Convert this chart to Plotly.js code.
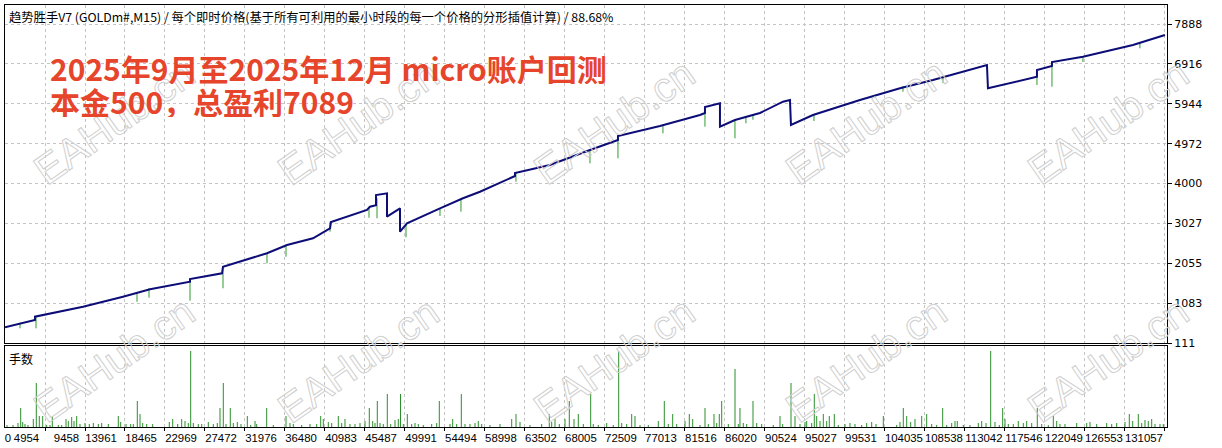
<!DOCTYPE html>
<html>
<head>
<meta charset="utf-8">
<script src="https://cdn.plot.ly/plotly-3.0.1.min.js"></script>
<style>
html,body{margin:0;padding:0;background:#fff;}
#chart{width:1222px;height:448px;}
</style>
</head>
<body>
<div id="chart"></div>
<script>
// ---- Data ----
// Balance curve (x = tick number, y = balance)
const balanceX = [450, 2139, 3828, 3828, 9233, 13737, 16777, 21281, 21281, 24884, 24997, 29950, 32203, 35130, 37045, 37158, 37833, 41211, 41549, 42225, 42225, 43464, 43464, 44927, 44927, 45714, 49430, 52019, 53932, 57310, 57873, 57873, 61814, 66317, 69470, 69470, 74199, 78703, 79266, 79266, 80955, 80955, 82644, 85459, 88049, 88837, 88950, 91427, 96719, 101223, 104938, 111018, 111131, 116649, 116649, 118338, 118338, 121827, 127456, 131059];
const balanceY = [500, 598, 678, 759, 1002, 1246, 1426, 1611, 1677, 1816, 1977, 2303, 2505, 2668, 2912, 3065, 3114, 3358, 3438, 3473, 3723, 3764, 3194, 3399, 2829, 3034, 3399, 3643, 3803, 4137, 4186, 4259, 4454, 4819, 5063, 5160, 5404, 5672, 5720, 5866, 5956, 5387, 5550, 5720, 5995, 6037, 5428, 5672, 6037, 6322, 6524, 6889, 6322, 6604, 6768, 6865, 6963, 7091, 7376, 7620];

// Equity dips (green spikes): x, equity before dip, equity low
const spikeX   = [2139, 3941, 15313, 16664, 21281, 24997, 29950, 32091, 37045, 41436, 42338, 45602, 49430, 51794, 57985, 66317, 69470, 74536, 79266, 82644, 83882, 84670, 91539, 101561, 106065, 116649, 118338, 121827, 128244];
const spikeTop = [613, 759, 1329, 1451, 1665, 1969, 2303, 2505, 3073, 3438, 3643, 2992, 3399, 3643, 4283, 4819, 5160, 5421, 5793, 5550, 5623, 5684, 5696, 6378, 6573, 6719, 6962, 7084, 7418];
const spikeLow = [476, 476, 1124, 1222, 1149, 1451, 2059, 2220, 2829, 3170, 3156, 2693, 3212, 3316, 4047, 4495, 4617, 5226, 5387, 5104, 5469, 5557, 5525, 6239, 6451, 6402, 6361, 6962, 7296];

// Lots (手数) per trade
const lotX = [676, 1351, 1914, 2218, 2443, 2702, 3040, 3637, 3975, 4313, 4695, 5146, 5517, 5776, 6452, 6835, 7319, 7578, 7961, 8220, 8524, 8895, 9458, 9943, 10393, 10956, 11339, 12082, 13208, 13478, 14075, 14604, 14897, 15347, 15651, 15955, 16406, 17081, 18951, 19334, 19896, 20347, 20718, 21090, 21360, 21653, 22216, 22599, 23342, 23905, 24355, 24659, 25031, 25335, 25819, 26157, 26607, 27024, 27733, 28116, 28600, 28792, 29918, 30661, 32091, 32541, 32913, 33859, 34793, 35548, 35998, 36291, 36854, 37237, 37980, 38363, 38734, 39297, 39860, 40423, 40986, 41472, 41854, 42112, 42371, 42675, 43047, 43497, 43880, 44364, 44736, 44984, 45299, 45749, 46245, 46616, 46988, 47551, 48497, 49060, 49353, 50557, 50861, 51312, 51830, 52246, 52809, 53372, 53744, 54127, 55061, 56187, 57505, 57989, 58439, 59565, 60883, 61739, 62009, 62380, 62864, 63506, 63991, 64520, 65004, 65567, 66399, 66692, 67255, 68201, 68944, 69552, 69890, 70453, 71016, 71388, 71951, 72886, 74012, 74688, 75138, 75634, 76084, 77018, 77503, 77886, 78707, 79270, 79642, 80284, 80588, 80881, 81151, 81894, 82648, 83020, 83207, 83583, 83966, 84675, 85091, 85653, 86960, 87714, 88018, 88954, 89404, 89967, 90530, 90722, 91285, 91578, 91848, 92219, 92591, 92974, 93267, 93830, 94280, 95034, 95597, 96160, 96915, 97478, 98041, 98525, 99347, 100856, 101227, 101599, 101982, 102432, 102916, 103671, 104234, 104797, 105360, 106035, 106486, 107049, 107420, 107679, 108355, 109109, 110044, 110427, 110911, 111440, 111924, 112409, 112791, 113050, 113422, 113985, 114548, 115111, 115494, 116057, 116687, 117183, 117926, 118489, 118871, 119243, 119806, 121124, 122250, 122621, 123376, 124502, 125065, 125628, 126562, 127047, 127430, 128060, 128443, 128814, 129186, 129569, 129940, 130503, 130875];
const lotSize = [0.02, 0.02, 0.04, 0.19, 0.05, 0.03, 0.02, 0.08, 0.44, 0.11, 0.11, 0.02, 0.02, 0.11, 0.02, 0.02, 0.08, 0.06, 0.10, 0.06, 0.11, 0.03, 0.04, 0.03, 0.04, 0.03, 0.04, 0.03, 0.11, 0.05, 0.03, 0.03, 0.03, 0.26, 0.13, 0.04, 0.03, 0.03, 0.05, 0.08, 0.03, 0.08, 0.06, 0.04, 0.76, 0.04, 0.03, 0.03, 0.05, 0.03, 0.04, 0.19, 0.44, 0.03, 0.19, 0.04, 0.05, 0.03, 0.11, 0.02, 0.06, 0.03, 0.19, 0.02, 0.11, 0.04, 0.03, 0.02, 0.03, 0.03, 0.11, 0.08, 0.05, 0.04, 0.11, 0.04, 0.08, 0.03, 0.03, 0.04, 0.06, 0.19, 0.06, 0.04, 0.26, 0.04, 0.03, 0.33, 0.03, 0.07, 0.08, 0.33, 0.03, 0.13, 0.03, 0.04, 0.03, 0.02, 0.03, 0.04, 0.26, 0.03, 0.08, 0.03, 0.33, 0.03, 0.03, 0.04, 0.06, 0.03, 0.02, 0.03, 0.08, 0.13, 0.05, 0.02, 0.03, 0.13, 0.05, 0.08, 0.03, 0.08, 0.26, 0.08, 0.13, 0.03, 0.33, 0.03, 0.02, 0.04, 0.02, 0.76, 0.04, 0.03, 0.13, 0.11, 0.02, 0.02, 0.06, 0.26, 0.03, 0.13, 0.03, 0.06, 0.13, 0.08, 0.02, 0.19, 0.03, 0.13, 0.04, 0.13, 0.26, 0.03, 0.58, 0.03, 0.19, 0.04, 0.03, 0.26, 0.04, 0.03, 0.02, 0.11, 0.03, 0.44, 0.11, 0.03, 0.05, 0.06, 0.04, 0.33, 0.11, 0.06, 0.13, 0.06, 0.11, 0.13, 0.02, 0.03, 0.04, 0.03, 0.02, 0.04, 0.05, 0.03, 0.11, 0.02, 0.05, 0.19, 0.11, 0.05, 0.08, 0.11, 0.13, 0.03, 0.02, 0.19, 0.02, 0.04, 0.06, 0.06, 0.02, 0.02, 0.04, 0.06, 0.04, 0.76, 0.05, 0.02, 0.19, 0.08, 0.03, 0.03, 0.06, 0.04, 0.06, 0.04, 0.19, 0.03, 0.02, 0.11, 0.06, 0.03, 0.03, 0.04, 0.04, 0.05, 0.03, 0.04, 0.03, 0.04, 0.05, 0.13, 0.06, 0.13, 0.04, 0.07, 0.06, 0.08, 0.03, 0.03, 0.03];

// Axis ticks
const yTickVals = [111, 1083, 2055, 3027, 4000, 4972, 5944, 6916, 7888];
const yTickText = ['111', '1083', '2055', '3027', '4000', '4972', '5944', '6916', '7888'];
const xGridVals = [4954, 9458, 13961, 18465, 22969, 27472, 31976, 36480, 40983, 45487, 49991, 54494, 58998, 63502, 68005, 72509, 77013, 81516, 86020, 90524, 95027, 99531, 104035, 108538, 113042, 117546, 122049, 126553, 131057];
const xTickText = ['0', '4954', '9458', '13961', '18465', '22969', '27472', '31976', '36480', '40983', '45487', '49991', '54494', '58998', '63502', '68005', '72509', '77013', '81516', '86020', '90524', '95027', '99531', '104035', '108538', '113042', '117546', '122049', '126553', '131057'];

const titleText = '趋势胜手V7 (GOLDm#,M15) / 每个即时价格(基于所有可利用的最小时段的每一个价格的分形插值计算) / 88.68%';
const noteLine1 = '2025年9月至2025年12月 micro账户回测';
const noteLine2 = '本金500，总盈利7089';
const lotsLabel = '手数';
const watermarkText = 'EAHub.cn';

// ---- Build ----
const xMin = 450, xMax = 131292;
const pxUnit = (xMax - xMin) / 1162;
// label placement like the terminal: labels sit left of their grid line
const labelOffsetPx = {4: 18.5, 5: 24, 6: 21};
const xTickPos = xTickText.map((t, i) => i === 0 ? xMin + 3 * pxUnit : Number(t) - labelOffsetPx[t.length] * pxUnit);

function segments(xs, y0s, y1s) {
  const X = [], Y = [];
  xs.forEach((x, i) => { X.push(x, x, null); Y.push(y0s[i], y1s[i], null); });
  return {X, Y};
}
const sp = segments(spikeX, spikeTop, spikeLow);
const lt = segments(lotX, lotX.map(() => 0), lotSize);

const traces = [
  {x: sp.X, y: sp.Y, xaxis: 'x2', yaxis: 'y', type: 'scatter', mode: 'lines',
   line: {color: '#2f9a2f', width: 1}, hoverinfo: 'skip', connectgaps: false},
  {x: balanceX, y: balanceY, xaxis: 'x2', yaxis: 'y', type: 'scatter', mode: 'lines',
   line: {color: '#0d0d78', width: 2}},
  {x: lt.X, y: lt.Y, xaxis: 'x', yaxis: 'y2', type: 'scatter', mode: 'lines',
   line: {color: '#2a8f2a', width: 1}, connectgaps: false}
];

// faint diagonal watermark, 5 columns x 2 rows (page pixels -> paper coords)
const wmCols = [114, 359, 614, 866, 1108], wmRows = [122, 360];
const watermarks = [];
wmRows.forEach(py => wmCols.forEach(px => watermarks.push({
  text: '<span style="fill:none;stroke:#cfcfcf;stroke-width:1px">' + watermarkText + '</span>',
  xref: 'paper', yref: 'paper', x: (px - 5) / 1162, y: (427 - py) / 422,
  xanchor: 'center', yanchor: 'middle', textangle: -35, showarrow: false,
  font: {family: 'Liberation Sans, Arial, sans-serif', size: 41, color: '#ececec'}
})));

const grid = '#c4c4c4';
const layout = {
  width: 1222, height: 448,
  margin: {l: 5, r: 55, t: 5, b: 21},
  paper_bgcolor: '#ffffff', plot_bgcolor: '#ffffff',
  showlegend: false,
  xaxis: {
    domain: [0, 1], anchor: 'y2', range: [xMin, xMax],
    tickmode: 'array', tickvals: xTickPos, ticktext: xTickText, tickangle: 0,
    showgrid: false, ticks: '', zeroline: false,
    tickfont: {family: 'Liberation Sans, DejaVu Sans, sans-serif', size: 11.4, color: '#000'},
    showline: true, mirror: true, linecolor: '#000', linewidth: 1,
    minor: {tickmode: 'array', tickvals: xGridVals, showgrid: true, gridcolor: grid,
            griddash: '3px,3px', gridwidth: 1, ticks: 'outside', ticklen: 3, tickcolor: '#000'}
  },
  xaxis2: {
    domain: [0, 1], anchor: 'y', range: [xMin, xMax],
    tickmode: 'array', tickvals: xGridVals, showticklabels: false, ticks: '',
    showgrid: true, gridcolor: grid, griddash: '3px,3px', gridwidth: 1, zeroline: false,
    showline: true, mirror: true, linecolor: '#000', linewidth: 1
  },
  yaxis: {
    domain: [0.1983, 1], anchor: 'x2', side: 'right', range: [110, 8351],
    tickmode: 'array', tickvals: yTickVals, ticktext: yTickText,
    ticks: 'outside', ticklen: 4, tickcolor: '#000',
    showgrid: true, gridcolor: grid, griddash: '3px,3px', gridwidth: 1, zeroline: false,
    tickfont: {family: 'DejaVu Sans, sans-serif', size: 11, color: '#000'},
    showline: true, mirror: true, linecolor: '#000', linewidth: 1
  },
  yaxis2: {
    domain: [0, 0.1931], anchor: 'x', range: [0, 0.815],
    showticklabels: false, ticks: '', showgrid: false, zeroline: false,
    showline: true, mirror: true, linecolor: '#000', linewidth: 1
  },
  annotations: watermarks.concat([
    {text: titleText, xref: 'paper', yref: 'paper', x: 0, y: 1, xanchor: 'left', yanchor: 'top',
     xshift: 2, yshift: -1, showarrow: false,
     font: {family: 'Noto Sans CJK SC, sans-serif', size: 12.3, color: '#000'}},
    {text: noteLine1, xref: 'paper', yref: 'paper', x: (48 - 5) / 1162, y: (427 - 68) / 422,
     xanchor: 'left', yanchor: 'middle', showarrow: false, height: 32, valign: 'middle',
     font: {family: 'Noto Sans CJK SC, sans-serif', size: 30, color: '#e6452c', weight: 'bold'}},
    {text: noteLine2, xref: 'paper', yref: 'paper', x: (48 - 5) / 1162, y: (427 - 101) / 422,
     xanchor: 'left', yanchor: 'middle', showarrow: false, height: 32, valign: 'middle',
     font: {family: 'Noto Sans CJK SC, sans-serif', size: 30, color: '#e6452c', weight: 'bold'}},
    {text: lotsLabel, xref: 'paper', yref: 'paper', x: 0, y: 0.1931, xanchor: 'left', yanchor: 'top',
     xshift: 2, yshift: -2, showarrow: false,
     font: {family: 'Noto Sans CJK SC, sans-serif', size: 12, color: '#000'}}
  ])
};

Plotly.newPlot('chart', traces, layout, {staticPlot: true, displayModeBar: false});
</script>
</body>
</html>
